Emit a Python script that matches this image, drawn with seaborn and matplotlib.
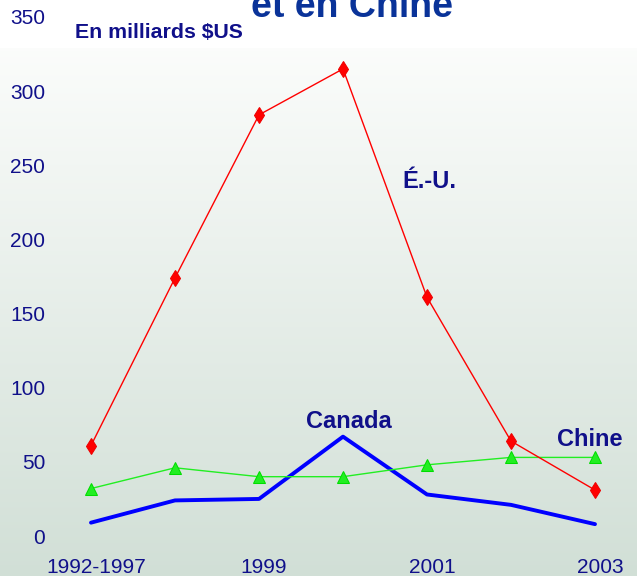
import numpy as np
import pandas as pd
import seaborn as sns
import matplotlib.pyplot as plt
from matplotlib.transforms import ScaledTranslation

# Investissements directs etrangers, en milliards $US
periods = ["1992-1997", "1998", "1999", "2000", "2001", "2002", "2003"]
tick_labels = ["1992-1997", "", "1999", "", "2001", "", "2003"]
us_values = [61, 174, 284, 315, 161, 64, 31]
china_values = [32, 46, 40, 40, 48, 53, 53]
canada_values = [9, 24, 25, 67, 28, 21, 8]

navy = "#10108a"
sns.set_style("white")
plt.rcParams["font.family"] = ["Liberation Sans", "DejaVu Sans"]

fig = plt.figure(figsize=(6.37, 5.76), dpi=100)
W, H = 637, 576

# Background gradient (white at top to light grey-green at bottom)
bg = fig.add_axes([0, 0, 1, 1], zorder=0)
grad = np.clip((np.arange(H) - 48) / (H - 48), 0, 1).reshape(-1, 1)
top = np.array([0.985, 0.99, 0.985])
bottom = np.array([0.82, 0.875, 0.84])
img = top + (bottom - top) * grad[..., None]
img[:48] = [1.0, 1.0, 1.0]
bg.imshow(img, aspect="auto", extent=[0, 1, 0, 1], origin="upper")
bg.axis("off")

x0, x1, y0, y1 = 55, 631, 17, 536
ax = fig.add_axes([x0 / W, 1 - y1 / H, (x1 - x0) / W, (y1 - y0) / H], zorder=1)
ax.patch.set_alpha(0)

x = np.arange(len(periods))
df = pd.DataFrame({"x": x, "us": us_values, "china": china_values, "canada": canada_values})

sns.lineplot(data=df, x="x", y="canada", ax=ax, color="#0000ff", lw=2.8, clip_on=False)
sns.lineplot(data=df, x="x", y="china", ax=ax, color="#22ee22", lw=1.0,
             marker="^", markersize=8, markeredgecolor="#00dd00", clip_on=False)
sns.lineplot(data=df, x="x", y="us", ax=ax, color="#ff0000", lw=1.0,
             marker="d", markersize=8, markeredgecolor="#ee0000", clip_on=False)

ax.set_xlim(-36 / 84, 6 + 36 / 84)
ax.set_ylim(0, 350)
ax.set_yticks(range(0, 351, 50))
ax.set_xticks(x)
ax.set_xticklabels(tick_labels)
ax.tick_params(axis="y", length=0, pad=7, labelsize=15, labelcolor=navy)
ax.tick_params(axis="x", length=0, pad=16, labelsize=15, labelcolor=navy)
shift = ScaledTranslation(5 / 100, 0, fig.dpi_scale_trans)
for lbl in ax.get_xticklabels():
    lbl.set_transform(lbl.get_transform() + shift)
ax.set_xlabel("")
ax.set_ylabel("")
sns.despine(ax=ax, left=True, bottom=True)

ax.text(3.71, 239, "É.-U.", color=navy, fontsize=17, fontweight="bold", va="center")
ax.text(3.07, 77, "Canada", color=navy, fontsize=17, fontweight="bold",
        ha="center", va="center")
ax.text(5.55, 65, "Chine", color=navy, fontsize=17, fontweight="bold", va="center")

fig.text(75 / W, 1 - 32 / H, "En milliards $US", color=navy, fontsize=15.3,
         fontweight="bold", va="center")
fig.text(352 / W, 1 - 17 / H, "et en Chine", color="#0a3399", fontsize=27,
         fontweight="bold", ha="center", va="baseline")

fig.savefig("out.png", dpi=100)
